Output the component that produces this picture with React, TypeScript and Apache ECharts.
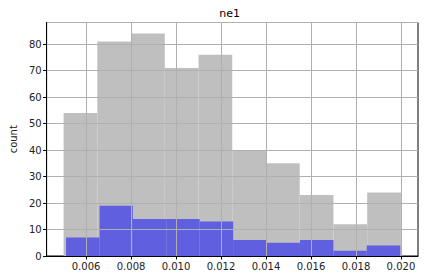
import React, { useEffect, useRef } from "react";
import * as echarts from "echarts";

const grayEdges = [0.005, 0.0065, 0.008, 0.0095, 0.011, 0.0125, 0.014, 0.0155, 0.017, 0.0185, 0.02];
const grayCounts = [54, 81, 84, 71, 76, 40, 35, 23, 12, 24];
const blueEdges = [0.00511, 0.0066, 0.00808, 0.00957, 0.01105, 0.01254, 0.01402, 0.01551, 0.017, 0.01848, 0.01997];
const blueCounts = [7, 19, 14, 14, 13, 6, 5, 6, 2, 4];
const xTicks = [0.006, 0.008, 0.01, 0.012, 0.014, 0.016, 0.018, 0.02];
const title = "ne1";
const yName = "count";

function toBins(edges: number[], counts: number[]) {
  return counts.map((c, i) => [edges[i], edges[i + 1], c]);
}

const renderBar = (color: string) => (params: any, api: any) => {
  const x0 = api.value(0);
  const x1 = api.value(1);
  const c = api.value(2);
  const p0 = api.coord([x0, c]);
  const p1 = api.coord([x1, 0]);
  return {
    type: "rect",
    shape: { x: p0[0], y: p0[1], width: p1[0] - p0[0], height: p1[1] - p0[1] },
    style: { fill: color },
  };
};

export default function App() {
  const ref = useRef<HTMLDivElement>(null);
  useEffect(() => {
    document.body.style.margin = "0";
    const chart = echarts.init(ref.current!, null, { renderer: "svg" });
    const font = "DejaVu Sans";
    chart.setOption({
      animation: false,
      textStyle: { fontFamily: font },
      grid: {
        left: 41.5,
        right: 6,
        top: 22.5,
        bottom: 24,
        show: true,
        borderColor: "#000",
        borderWidth: 1,
        backgroundColor: "transparent",
      },
      graphic: [
        {
          type: "text",
          x: 229.7,
          y: 13,
          z: 10,
          style: {
            text: title,
            fontFamily: font,
            fontSize: 11,
            fill: "#000",
            textAlign: "center",
            textVerticalAlign: "middle",
          },
        },
      ],
      xAxis: {
        type: "value",
        min: 0.004246,
        max: 0.020759,
        z: 3,
        axisLine: { show: true, onZero: false, lineStyle: { color: "#000", width: 1 } },
        axisTick: {
          show: true,
          length: 3.5,
          customValues: xTicks,
          lineStyle: { color: "#000" },
        },
        axisLabel: {
          customValues: xTicks,
          fontFamily: font,
          fontSize: 10,
          color: "#222",
          margin: 5,
          formatter: (v: number) => v.toFixed(3),
        },
        splitLine: { show: true, lineStyle: { color: "#b0b0b0", width: 1 } },
      },
      yAxis: {
        type: "value",
        min: 0,
        max: 88.2,
        interval: 10,
        z: 3,
        name: yName,
        nameLocation: "middle",
        nameGap: 24,
        nameTextStyle: { fontFamily: font, fontSize: 10, color: "#222" },
        axisLine: { show: true, lineStyle: { color: "#000", width: 1 } },
        axisTick: { show: true, length: 3.5, lineStyle: { color: "#000" } },
        axisLabel: {
          fontFamily: font,
          fontSize: 10,
          color: "#222",
          margin: 5,
          showMaxLabel: false,
        },
        splitLine: { show: true, lineStyle: { color: "#b0b0b0", width: 1 } },
      },
      series: [
        {
          type: "custom",
          renderItem: renderBar("#bfbfbf"),
          encode: { x: [0, 1], y: 2 },
          data: toBins(grayEdges, grayCounts),
          z: 1,
        },
        {
          type: "custom",
          renderItem: renderBar("#5f5fdf"),
          encode: { x: [0, 1], y: 2 },
          data: toBins(blueEdges, blueCounts),
          z: 2,
        },
      ],
    });
    return () => chart.dispose();
  }, []);
  return (
    <div
      ref={ref}
      style={{ width: 424, height: 280, position: "absolute", left: 0, top: 0 }}
    />
  );
}
